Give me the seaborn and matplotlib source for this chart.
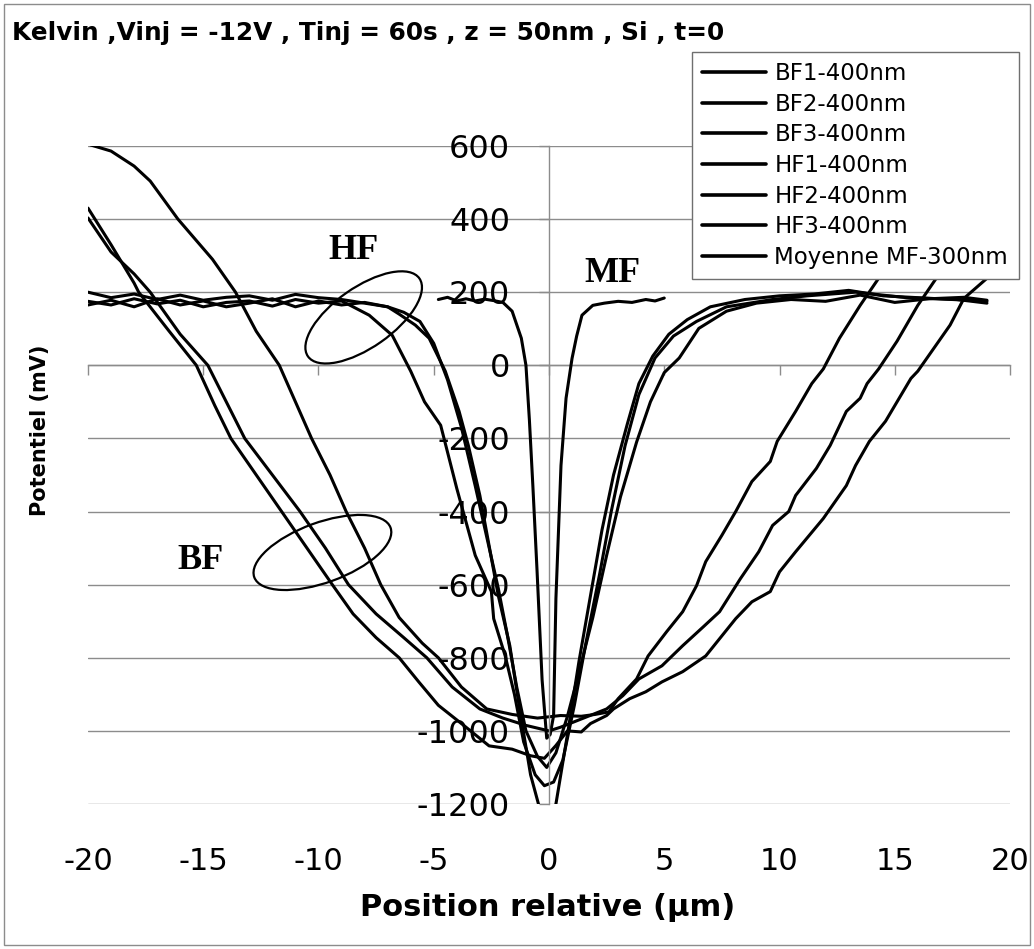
import pandas as pd
import seaborn as sns
import matplotlib.pyplot as plt
from matplotlib.lines import Line2D
from matplotlib.patches import Ellipse, Rectangle
from matplotlib.transforms import ScaledTranslation

# series (x in µm, potential in mV)
bf1_x = [-20, -19, -18, -17.8, -16.5, -15.3, -14.5, -13.8, -12.7, -11.6, -10.5, -9.4, -8.5, -7.5, -6.5,
         -5.65, -4.8, -3.6, -2.6, -1.6, -0.8, -0.2, 0.3, 0.8, 1.4, 1.8, 2.5, 2.8, 3.5, 4.2, 4.9, 5.8, 6.8,
         8.1, 8.8, 9.6, 10.0, 10.7, 11.9, 12.9, 13.3, 13.9, 14.6, 15.7, 16.0, 16.7, 17.4, 18.0, 19.0, 20.0]
bf1_y = [430, 330, 225, 200, 95, 0, -110, -200, -300, -400, -500, -600, -680, -745, -800,
         -866, -930, -990, -1041, -1050, -1068, -1075, -1040, -1000, -1003, -980, -958, -940, -912, -893, -866, -838, -795,
         -693, -647, -619, -565, -510, -419, -329, -274, -208, -153, -36, -16, 47, 110, 183, 238, 330]

bf2_x = [-20, -19, -18, -17.3, -16, -14.8, -14, -13.2, -12, -10.8, -9.7, -8.7, -7.5, -6.3, -5.3, -4.2, -3, -2, -1,
         0, 0.5, 1.5, 2.5, 3.2, 3.9, 4.9, 5.8, 6.7, 7.4, 8.3, 9.1, 9.7, 10.4, 10.7, 11.6, 12.2, 12.9, 13.5,
         13.8, 14.3, 15.1, 16.0, 16.8, 18.0, 19.0, 20.0]
bf2_y = [403, 310, 250, 200, 85, 0, -100, -200, -300, -400, -500, -600, -680, -745, -800, -880, -940, -965, -985,
         -1000, -990, -965, -940, -904, -858, -822, -767, -715, -674, -584, -510, -438, -400, -356, -282, -219, -126, -90,
         -50, -10, 66, 164, 238, 380, 490, 600]

bf3_x = [-19.9, -19, -18, -17.3, -16.1, -14.6, -13.6, -12.7, -11.7, -11.0, -10.3, -9.5, -8.8, -8.0, -7.3, -6.5,
         -5.5, -4.8, -3.8, -2.7, -1.6, -0.5, 0.5, 1.4, 2.0, 2.6, 3.0, 3.8, 4.3, 5.1, 5.8, 6.4, 6.8, 7.5, 8.1,
         8.8, 9.6, 9.9, 10.7, 11.4, 11.9, 12.6, 13.5, 14.3, 15.5, 17.0, 18.5]
bf3_y = [603, 586, 545, 504, 400, 290, 200, 93, 0, -100, -200, -300, -400, -500, -600, -690,
         -760, -800, -880, -940, -955, -965, -958, -960, -955, -948, -912, -858, -795, -729, -674, -603, -537, -465, -400,
         -318, -263, -208, -126, -50, -10, 74, 164, 238, 380, 560, 720]

hf1_x = [-20, -19, -18, -17, -16, -15, -14, -13, -12, -11, -10, -9, -8, -7, -6.5, -5.8, -5.2, -4.5, -3.9, -3.5,
         -3.0, -2.6, -2.2, -1.7, -1.3, -0.8, -0.2, 0.3, 0.8, 1.3, 1.8, 2.3, 2.8, 3.4, 3.9, 4.5, 5.2, 6.0, 7.0,
         8.5, 10.0, 11.5, 13.0, 14.5, 16.0, 17.5, 19.0]
hf1_y = [200, 185, 195, 180, 192, 178, 186, 190, 178, 194, 185, 180, 170, 160, 140, 110, 74, -16, -126, -219,
         -356, -493, -630, -767, -930, -1120, -1260, -1200, -1010, -810, -630, -450, -300, -160, -50, 25, 85, 125, 160,
         180, 190, 195, 205, 190, 185, 180, 175]

hf2_x = [-20, -19, -18, -17, -16, -15, -14, -13, -12, -11, -10, -9, -8.5, -7.8, -6.8, -6.0, -5.4, -4.7, -4.0,
         -3.2, -2.5, -2.4, -1.9, -1.5, -1.1, -0.6, -0.2, 0.2, 0.6, 1.1, 1.6, 2.2, 2.7, 3.3, 3.9, 4.6, 5.4, 6.4,
         7.7, 9.7, 11.2, 13.3, 15.5, 17.7, 19.0]
hf2_y = [175, 165, 182, 168, 178, 160, 172, 176, 162, 180, 170, 176, 160, 137, 82, -16, -100, -164, -337,
         -520, -619, -693, -795, -900, -1030, -1120, -1150, -1140, -1080, -930, -760, -570, -400, -220, -80, 20, 80, 120,
         160, 180, 190, 200, 185, 180, 170]

hf3_x = [-20, -19, -18, -17, -16, -15, -14, -13, -12, -11, -10, -9, -8, -7, -6.3, -5.6, -5.0, -4.4, -3.8, -3.2,
         -2.7, -2.2, -1.8, -1.4, -1.0, -0.5, -0.1, 0.3, 0.8, 1.3, 1.9, 2.5, 3.1, 3.8, 4.4, 5.0, 5.65, 6.5, 7.7,
         9.0, 10.5, 12.0, 13.5, 15.0, 16.5, 18.0, 19.0]
hf3_y = [165, 178, 160, 182, 165, 176, 160, 170, 182, 160, 176, 165, 172, 160, 145, 120, 60, -40, -170, -330,
         -470, -610, -740, -880, -1000, -1070, -1100, -1060, -960, -840, -690, -520, -360, -210, -100, -20, 20, 101, 148,
         170, 180, 175, 192, 172, 182, 186, 178]

mf_x = [-4.8, -4.4, -4.0, -3.6, -3.2, -2.8, -2.4, -2.0, -1.6, -1.2, -1.0, -0.85, -0.7, -0.52, -0.3, -0.1, 0.05,
        0.2, 0.3, 0.52, 0.74, 1.0, 1.2, 1.43, 1.9, 2.4, 3.0, 3.6, 4.2, 4.6, 5.0]
mf_y = [180, 186, 176, 182, 176, 181, 177, 172, 148, 74, 0, -150, -330, -560, -860, -1020, -1010,
        -958, -638, -274, -90, 19, 80, 137, 164, 170, 175, 172, 180, 176, 184]

labels = ["BF1-400nm", "BF2-400nm", "BF3-400nm", "HF1-400nm", "HF2-400nm", "HF3-400nm", "Moyenne MF-300nm"]
xs = [bf1_x, bf2_x, bf3_x, hf1_x, hf2_x, hf3_x, mf_x]
ys = [bf1_y, bf2_y, bf3_y, hf1_y, hf2_y, hf3_y, mf_y]

xticks = [-20, -15, -10, -5, 0, 5, 10, 15, 20]
yticks = [-1200, -1000, -800, -600, -400, -200, 0, 200, 400, 600]

title = "Kelvin ,Vinj = -12V , Tinj = 60s , z = 50nm , Si , t=0"

df = pd.concat([pd.DataFrame({"x": a, "y": b, "serie": n}) for n, a, b in zip(labels, xs, ys)],
               ignore_index=True)

sns.set_theme(style="white")
plt.rcParams['font.family'] = ['DejaVu Sans']
plt.rcParams['axes.unicode_minus'] = False
plt.rcParams['text.color'] = 'black'
plt.rcParams['xtick.color'] = 'black'
plt.rcParams['ytick.color'] = 'black'
gray = "#8c8c8c"

fig = plt.figure(figsize=(10.34, 9.49), dpi=100)
ax = fig.add_axes([0.0851, 0.1528, 0.8917, 0.6934])

sns.lineplot(data=df, x="x", y="y", hue="serie", hue_order=labels, palette=["black"] * 7,
             estimator=None, sort=False, linewidth=2.2, legend=False, ax=ax)

ax.set_xlim(-20, 20)
ax.set_ylim(-1200, 600)
ax.set_xticks(xticks)
ax.set_yticks(yticks)
ax.set_xlabel("")
ax.set_ylabel("")
ax.yaxis.grid(True, color=gray, lw=1)
ax.xaxis.grid(False)
ax.set_axisbelow(True)

for s in ["top", "right", "bottom"]:
    ax.spines[s].set_visible(False)
ax.spines["left"].set_position(("data", 0))
ax.spines["left"].set_color(gray)
ax.spines["left"].set_linewidth(1)

ax.tick_params(axis="y", direction="out", length=7, width=1, color=gray, labelcolor="black",
               pad=21, labelsize=23, left=True)
ax.tick_params(axis="x", length=0, pad=31, labelsize=22, labelcolor="black")

# horizontal axis line at y = 0 with its tick marks
sec = ax.secondary_xaxis(2 / 3)
sec.set_xticks(xticks)
sec.tick_params(axis="x", direction="in", length=7, width=1, color=gray, labeltop=False, labelbottom=False)
for sp in sec.spines.values():
    sp.set_color(gray)
    sp.set_linewidth(1)

# group annotations
for txt, tx, ty in [("HF", -8.5, 315), ("MF", 2.74, 252), ("BF", -15.1, -534)]:
    ax.text(tx, ty, txt, family="Liberation Serif", weight="bold", fontsize=26, ha="center", va="center")

for cx, cy, w, h, ang in [(-8.04, 131, 1.36, 0.6, 35), (-9.83, -512, 1.45, 0.6, 20)]:
    e = Ellipse((0, 0), width=w, height=h, angle=ang, fill=False, ec="black", lw=1.6,
                transform=fig.dpi_scale_trans + ScaledTranslation(cx, cy, ax.transData))
    ax.add_artist(e)

handles = [Line2D([], [], color="black", lw=2.6) for _ in labels]
ax.legend(handles, labels, loc="upper left", bbox_to_anchor=(692 / 1034, 1 - 52 / 949),
          bbox_transform=fig.transFigure, frameon=True, fancybox=False, edgecolor="#6f6f6f",
          framealpha=1, fontsize=16.5, handlelength=2.8, handletextpad=0.35, labelspacing=0.33,
          borderpad=0.45, borderaxespad=0)

fig.text(12 / 1034, 1 - 33 / 949, title, fontsize=17.8, weight="bold", ha="left", va="center")
fig.text(40 / 1034, 1 - 430 / 949, "Potentiel (mV)", rotation=90, fontsize=15, weight="bold",
         ha="center", va="center")
fig.text(548 / 1034, 1 - 908 / 949, "Position relative (µm)", fontsize=22, weight="bold",
         ha="center", va="center")

fig.patches.append(Rectangle((4 / 1034, 4 / 949), 1026 / 1034, 941 / 949, transform=fig.transFigure,
                             fill=False, ec=gray, lw=1))

fig.savefig("out.png", dpi=100)
